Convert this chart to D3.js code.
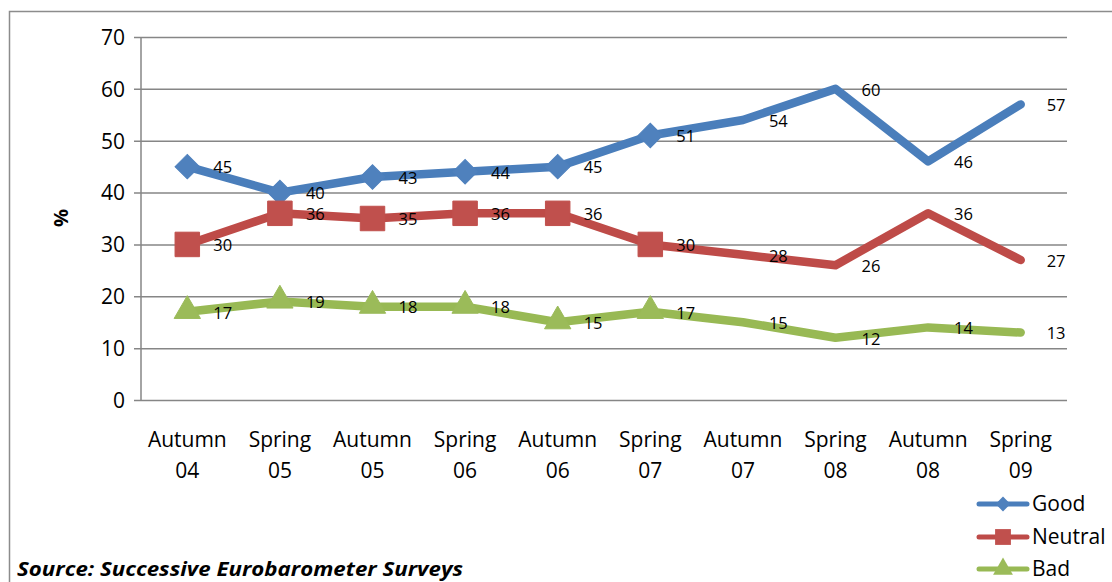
<!DOCTYPE html>
<html><head><meta charset="utf-8">
<script src="https://cdn.jsdelivr.net/npm/d3@7"></script>
<style>
html,body{margin:0;padding:0;background:#fff;}
svg{display:block;font-family:"Open Sans",sans-serif;}
</style></head>
<body><svg id="c" width="1112" height="582"></svg>
<script>
const categories = [["Autumn","04"],["Spring","05"],["Autumn","05"],["Spring","06"],["Autumn","06"],["Spring","07"],["Autumn","07"],["Spring","08"],["Autumn","08"],["Spring","09"]];
const good    = [45,40,43,44,45,51,54,60,46,57];
const neutral = [30,36,35,36,36,30,28,26,36,27];
const bad     = [17,19,18,18,15,17,15,12,14,13];
const yTicks  = [0,10,20,30,40,50,60,70];
const markerCount = 6; // markers shown on first points only
const seriesNames = ["Good","Neutral","Bad"];

const series = [
  {name:seriesNames[0], values:good, line:"#4A7EBB", fill:"#4F81BD", kind:"diamond"},
  {name:seriesNames[1], values:neutral, line:"#BE4B48", fill:"#C0504D", kind:"square"},
  {name:seriesNames[2], values:bad, line:"#98B954", fill:"#9BBB59", kind:"triangle"}
];
function markerPath(kind, big){
  if(kind==="diamond") return d3.symbol().type(d3.symbolSquare).size(big?300:110)();
  if(kind==="square") return d3.symbol().type(d3.symbolSquare).size(big?600:250)();
  return d3.symbol().type(d3.symbolTriangle).size(big?300:170)();
}
const rot = k => k==="diamond" ? " rotate(45)" : "";

const svg = d3.select("#c");
const M = {left:141, right:1067, top:37, bottom:400};

// outer frame
svg.append("rect").attr("x",9.5).attr("y",11.5).attr("width",1130).attr("height",600)
  .attr("fill","none").attr("stroke","#8c8c8c").attr("stroke-width",1.5);

const x = d3.scaleBand().domain(d3.range(categories.length)).range([M.left,M.right]);
const y = d3.scaleLinear().domain([0,70]).range([M.bottom,M.top]);
const cx = i => x(i)+x.bandwidth()/2;

// gridlines + y axis
const yAxis = d3.axisLeft(y).tickValues(yTicks).tickSize(-(M.right-M.left)).tickPadding(16);
const gy = svg.append("g").attr("transform",`translate(${M.left},0)`).call(yAxis);
gy.select(".domain").remove();
gy.selectAll(".tick line").attr("stroke","#868686").attr("stroke-width",1.5).attr("x1",-7);
gy.selectAll(".tick text").attr("font-size",21).attr("fill","#000").attr("font-family","Open Sans").attr("dy","0.35em");
svg.append("line").attr("x1",M.left).attr("x2",M.left).attr("y1",M.top).attr("y2",M.bottom)
  .attr("stroke","#868686").attr("stroke-width",1.5);

// x labels
const xl = svg.append("g");
categories.forEach((c,i)=>{
  const t = xl.append("text").attr("x",cx(i)).attr("y",447).attr("text-anchor","middle")
    .attr("font-size",21).attr("fill","#000");
  t.append("tspan").attr("x",cx(i)).text(c[0]);
  t.append("tspan").attr("x",cx(i)).attr("dy",31).text(c[1]);
});

// y title
svg.append("text").attr("transform","translate(68,218) rotate(-90)").attr("text-anchor","middle")
  .attr("font-size",20).attr("font-weight","bold").text("%");

// lines
const line = d3.line().x((d,i)=>cx(i)).y(d=>y(d));
series.forEach(s=>{
  svg.append("path").datum(s.values).attr("d",line).attr("fill","none")
    .attr("stroke",s.line).attr("stroke-width",8.5).attr("stroke-linejoin","round").attr("stroke-linecap","round");
});
series.forEach(s=>{
  svg.append("g").selectAll("path").data(s.values.slice(0,markerCount)).join("path")
    .attr("d",markerPath(s.kind,true))
    .attr("transform",(d,i)=>`translate(${cx(i)},${y(d)+(s.kind==="triangle"?-1:0)})${rot(s.kind)}`)
    .attr("fill",s.fill).attr("stroke",s.fill).attr("stroke-width",1);
  svg.append("g").selectAll("text").data(s.values).join("text")
    .attr("x",(d,i)=>cx(i)+26).attr("y",d=>y(d)+1).attr("dy","0.35em")
    .attr("font-size",16.5).attr("fill","#000").text(d=>d);
});

// legend
const lg = svg.append("g");
const legY = [504,537,569];
series.forEach((s,k)=>{
  const ly = legY[k];
  lg.append("line").attr("x1",979).attr("x2",1027).attr("y1",ly).attr("y2",ly)
    .attr("stroke",s.line).attr("stroke-width",5).attr("stroke-linecap","round");
  lg.append("path").attr("d",markerPath(s.kind,false))
    .attr("transform",`translate(1003,${ly})${rot(s.kind)}`).attr("fill",s.fill);
  lg.append("text").attr("x",1032).attr("y",ly).attr("dy","0.35em").attr("font-size",21).text(s.name);
});

// source
svg.append("text").attr("x",17).attr("y",576).attr("font-size",19).attr("font-weight","bold")
  .attr("font-style","italic").attr("textLength",446).attr("lengthAdjust","spacingAndGlyphs")
  .text("Source:  Successive Eurobarometer Surveys");
</script></body></html>
